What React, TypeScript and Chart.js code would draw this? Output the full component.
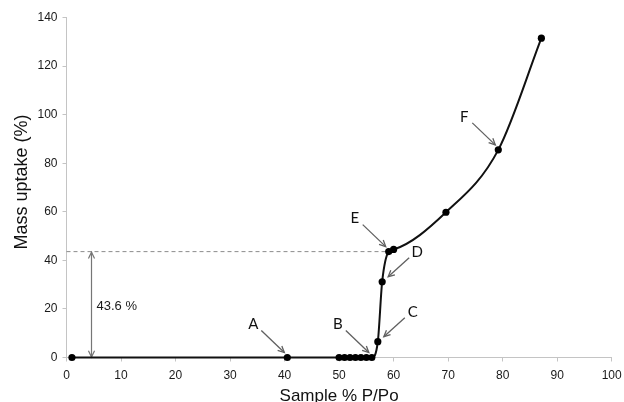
import React, { useEffect, useRef } from 'react';
import { Chart, registerables } from 'chart.js';

Chart.register(...registerables);

// ---- data ----
const samplePPo = [1, 40.5, 50, 51, 52, 53, 54, 55, 56, 57.1, 57.9, 59.1, 60, 69.6, 79.2, 87.1];
const massUptake = [0, 0, 0, 0, 0, 0, 0, 0, 0, 6.5, 31.2, 43.6, 44.5, 59.8, 85.5, 131.5];

const xMin = 0;
const xMax = 100;
const xStep = 10;
const yMin = 0;
const yMax = 140;
const yStep = 20;

const xTitle = 'Sample % P/Po';
const yTitle = 'Mass uptake (%)';

const annotationLabels = ['A', 'B', 'C', 'D', 'E', 'F'];
const annotationPointIndex = [1, 8, 9, 10, 11, 14];
const annotationSide = ['left', 'left', 'right', 'right', 'left', 'left'];

const thresholdValue = 43.6;
const thresholdLabel = '43.6 %';
const thresholdArrowX = 4.5;
const thresholdLabelY = 21.2;
const thresholdPointIndex = 11;

// ---- drawing helpers ----
function drawHead(ctx: CanvasRenderingContext2D, tx: number, ty: number, ang: number, len = 7) {
  const a1 = ang + Math.PI - 0.45;
  const a2 = ang + Math.PI + 0.45;
  ctx.beginPath();
  ctx.moveTo(tx + Math.cos(a1) * len, ty + Math.sin(a1) * len);
  ctx.lineTo(tx, ty);
  ctx.lineTo(tx + Math.cos(a2) * len, ty + Math.sin(a2) * len);
  ctx.stroke();
}

const titleFont = '"Liberation Sans", Arial, sans-serif';

const overlayPlugin = {
  id: 'overlay',
  beforeDatasetsDraw(chart: any) {
    const { ctx, scales } = chart;
    const x = scales.x;
    const y = scales.y;
    const meta = chart.getDatasetMeta(0);
    const e = meta.data[thresholdPointIndex];
    const yPx = y.getPixelForValue(thresholdValue);
    const y0 = y.getPixelForValue(0);
    ctx.save();
    // dashed threshold line
    ctx.strokeStyle = '#8c8c8c';
    ctx.lineWidth = 1;
    ctx.setLineDash([4, 3]);
    ctx.beginPath();
    ctx.moveTo(x.left, yPx);
    ctx.lineTo(e.x, yPx);
    ctx.stroke();
    ctx.setLineDash([]);
    // double arrow
    const ax = Math.round(x.getPixelForValue(thresholdArrowX)) + 0.5;
    ctx.strokeStyle = '#767676';
    ctx.lineWidth = 1.2;
    ctx.beginPath();
    ctx.moveTo(ax, y0);
    ctx.lineTo(ax, yPx);
    ctx.stroke();
    drawHead(ctx, ax, yPx + 0.5, -Math.PI / 2, 7);
    drawHead(ctx, ax, y0 - 0.5, Math.PI / 2, 7);
    // label
    ctx.fillStyle = '#1a1a1a';
    ctx.font = `13px ${titleFont}`;
    ctx.textAlign = 'left';
    ctx.textBaseline = 'middle';
    ctx.fillText(thresholdLabel, ax + 5, y.getPixelForValue(thresholdLabelY));
    ctx.restore();
  },
  afterDatasetsDraw(chart: any) {
    const { ctx } = chart;
    const meta = chart.getDatasetMeta(0);
    ctx.save();
    ctx.strokeStyle = '#606060';
    ctx.lineWidth = 1.3;
    ctx.fillStyle = '#111';
    ctx.font = '15px Lato, "Open Sans", sans-serif';
    ctx.textAlign = 'center';
    ctx.textBaseline = 'middle';
    annotationLabels.forEach((lab, i) => {
      const p = meta.data[annotationPointIndex[i]];
      const left = annotationSide[i] === 'left';
      const tipX = p.x + (left ? -3 : 6);
      const tipY = p.y - 5;
      const tailX = tipX + (left ? -23 : 21);
      const tailY = tipY + (left ? -22 : -19);
      ctx.beginPath();
      ctx.moveTo(tailX, tailY);
      ctx.lineTo(tipX, tipY);
      ctx.stroke();
      drawHead(ctx, tipX, tipY, Math.atan2(tipY - tailY, tipX - tailX), 7);
      ctx.fillText(lab, tailX + (left ? -8 : 8), tailY - 6);
    });
    ctx.restore();
  },
  afterDraw(chart: any) {
    const { ctx, chartArea } = chart;
    ctx.save();
    ctx.fillStyle = '#111';
    ctx.textAlign = 'center';
    ctx.textBaseline = 'middle';
    // x title
    ctx.font = `17px ${titleFont}`;
    ctx.fillText(xTitle, (chartArea.left + chartArea.right) / 2, 396);
    // y title
    ctx.translate(22, 182);
    ctx.rotate(-Math.PI / 2);
    ctx.font = `18px ${titleFont}`;
    ctx.fillText(yTitle, 0, 0);
    ctx.restore();
  },
};

export default function App() {
  const canvasRef = useRef<HTMLCanvasElement | null>(null);

  useEffect(() => {
    const canvas = canvasRef.current;
    if (!canvas) return;
    const points = samplePPo.map((v, i) => ({ x: v, y: massUptake[i] }));
    const tickFont = { family: titleFont, size: 12 };
    const chart = new Chart(canvas, {
      type: 'line',
      data: {
        datasets: [
          {
            data: points,
            borderColor: '#111',
            backgroundColor: '#111',
            borderWidth: 2,
            pointRadius: 3.6,
            pointBackgroundColor: '#000',
            pointBorderWidth: 0,
            cubicInterpolationMode: 'monotone',
            clip: false as any,
          } as any,
        ],
      },
      options: {
        responsive: false,
        animation: false,
        devicePixelRatio: 1,
        layout: { padding: { top: 17.5, right: 12.3, left: 0, bottom: 0 } },
        plugins: {
          legend: { display: false },
          tooltip: { enabled: false },
        },
        scales: {
          x: {
            type: 'linear',
            min: xMin,
            max: xMax,
            ticks: { stepSize: xStep, color: '#1a1a1a', font: tickFont, padding: 7, maxRotation: 0 },
            grid: { drawOnChartArea: false, drawTicks: true, tickLength: 4, color: '#c4c4c4' },
            border: { color: '#c4c4c4', width: 1 },
            afterFit(scale: any) {
              scale.height = 44.5;
              scale.paddingLeft = 0;
              scale.paddingRight = 0;
            },
          },
          y: {
            type: 'linear',
            min: yMin,
            max: yMax,
            ticks: { stepSize: yStep, color: '#1a1a1a', font: tickFont, padding: 5 },
            grid: { drawOnChartArea: false, drawTicks: true, tickLength: 4, color: '#c4c4c4' },
            border: { color: '#c4c4c4', width: 1 },
            afterFit(scale: any) {
              scale.width = 66.5;
              scale.paddingTop = 0;
              scale.paddingBottom = 0;
            },
          },
        },
      } as any,
      plugins: [overlayPlugin],
    });
    return () => chart.destroy();
  }, []);

  return (
    <div style={{ position: 'fixed', left: 0, top: 0, width: 624, height: 402, background: '#fff' }}>
      <canvas ref={canvasRef} width={624} height={402} style={{ display: 'block' }} />
    </div>
  );
}
